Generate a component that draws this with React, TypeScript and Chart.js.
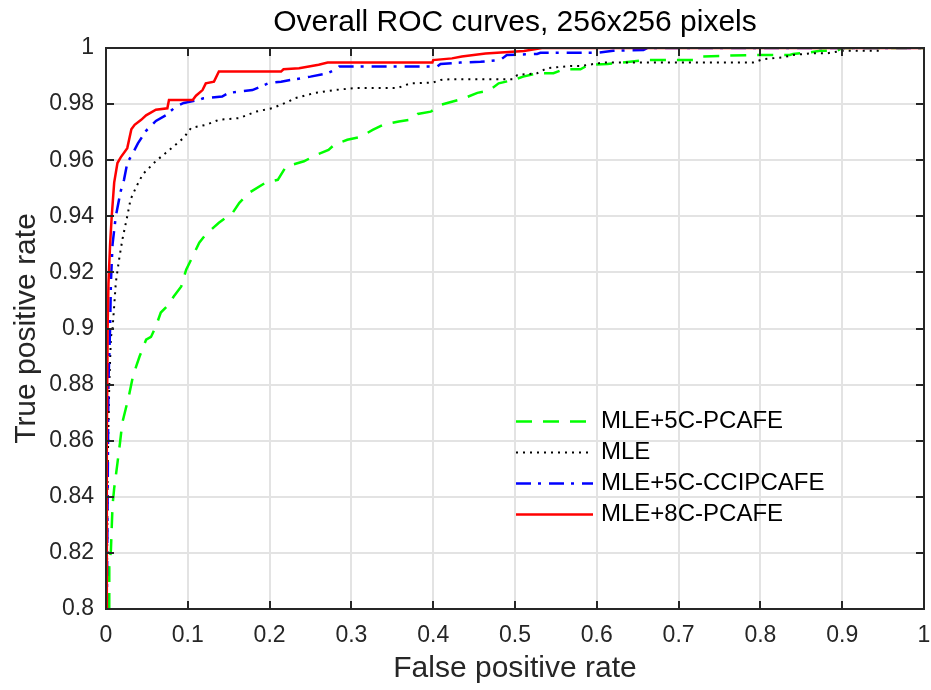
import React, { useEffect, useRef } from 'react';
import { Chart, registerables } from 'chart.js';

Chart.register(...registerables);

const chartTitle = 'Overall ROC curves, 256x256 pixels';
const xAxisTitle = 'False positive rate';
const yAxisTitle = 'True positive rate';
const seriesLabels = ['MLE+5C-PCAFE', 'MLE', 'MLE+5C-CCIPCAFE', 'MLE+8C-PCAFE'];

// [false positive rate, true positive rate]
const greenPoints: number[][] = [
  [0.004, 0.8], [0.004, 0.815], [0.006, 0.821], [0.008, 0.837], [0.01, 0.843], [0.014, 0.852],
  [0.017, 0.859], [0.02, 0.8665], [0.024, 0.8712], [0.028, 0.876], [0.033, 0.883], [0.037, 0.8866],
  [0.041, 0.89], [0.049, 0.896], [0.055, 0.897], [0.061, 0.9008], [0.067, 0.9057], [0.075, 0.908],
  [0.083, 0.9115], [0.092, 0.915], [0.098, 0.921], [0.106, 0.9257], [0.114, 0.9306], [0.122, 0.9335],
  [0.138, 0.9377], [0.155, 0.9413], [0.163, 0.9448], [0.175, 0.9484], [0.195, 0.952], [0.21, 0.953],
  [0.22, 0.9577], [0.228, 0.9584], [0.242, 0.9596], [0.258, 0.962], [0.272, 0.9637], [0.279, 0.9655],
  [0.295, 0.9673], [0.311, 0.9683], [0.326, 0.9708], [0.339, 0.9726], [0.358, 0.9738], [0.372, 0.9744],
  [0.381, 0.9765], [0.397, 0.9773], [0.409, 0.9797], [0.425, 0.981], [0.437, 0.982], [0.454, 0.984],
  [0.468, 0.9848], [0.48, 0.9874], [0.498, 0.9886], [0.51, 0.9898], [0.527, 0.991], [0.547, 0.991],
  [0.559, 0.9924], [0.58, 0.9924], [0.59, 0.994], [0.613, 0.9943], [0.661, 0.9957], [0.718, 0.9957],
  [0.73, 0.997], [0.788, 0.9975], [0.836, 0.9975], [0.84, 0.9979], [0.857, 0.9983], [0.873, 0.999],
  [0.894, 0.999], [0.9, 1], [1, 1],
];

const blackPoints: number[][] = [
  [0.001, 0.8], [0.002, 0.85], [0.004, 0.88], [0.006, 0.897], [0.008, 0.9], [0.01, 0.908],
  [0.012, 0.9164], [0.016, 0.9246], [0.02, 0.9317], [0.026, 0.94], [0.03, 0.946], [0.037, 0.9505],
  [0.045, 0.955], [0.061, 0.9597], [0.073, 0.9626], [0.085, 0.9655], [0.095, 0.968], [0.104, 0.9715],
  [0.122, 0.9726], [0.138, 0.9744], [0.163, 0.975], [0.183, 0.9773], [0.204, 0.9786], [0.224, 0.981],
  [0.23, 0.982], [0.254, 0.9839], [0.279, 0.985], [0.303, 0.9857], [0.356, 0.9857], [0.372, 0.9874],
  [0.4, 0.9877], [0.409, 0.9886], [0.421, 0.9889], [0.498, 0.9889], [0.503, 0.9904], [0.527, 0.991],
  [0.539, 0.9928], [0.568, 0.9936], [0.58, 0.9936], [0.608, 0.9948], [0.791, 0.9948], [0.803, 0.996],
  [0.828, 0.9967], [0.84, 0.9975], [0.861, 0.9981], [0.881, 0.9981], [0.901, 0.999], [0.946, 0.999],
  [0.95, 1], [1, 1],
];

const bluePoints: number[][] = [
  [0.001, 0.8], [0.002, 0.84], [0.003, 0.881], [0.005, 0.9], [0.006, 0.9164], [0.008, 0.93],
  [0.012, 0.94], [0.018, 0.949], [0.022, 0.953], [0.026, 0.959], [0.033, 0.9626], [0.039, 0.966],
  [0.049, 0.9705], [0.061, 0.974], [0.073, 0.976], [0.085, 0.979], [0.095, 0.9804], [0.114, 0.9815],
  [0.118, 0.982], [0.142, 0.9827], [0.15, 0.984], [0.179, 0.985], [0.199, 0.9875], [0.214, 0.988],
  [0.238, 0.9892], [0.25, 0.9898], [0.271, 0.991], [0.281, 0.9924], [0.285, 0.9934], [0.405, 0.9934],
  [0.409, 0.9943], [0.433, 0.9948], [0.458, 0.9951], [0.482, 0.9957], [0.49, 0.9975], [0.527, 0.9979],
  [0.531, 0.9983], [0.6, 0.9983], [0.62, 0.999], [0.657, 0.9993], [0.662, 1], [1, 1],
];

const redPoints: number[][] = [
  [0.001, 0.8], [0.001, 0.86], [0.002, 0.9], [0.003, 0.916], [0.005, 0.93], [0.007, 0.94],
  [0.01, 0.952], [0.014, 0.959], [0.018, 0.961], [0.026, 0.9643], [0.031, 0.971], [0.035, 0.9726],
  [0.043, 0.9744], [0.049, 0.976], [0.061, 0.978], [0.075, 0.9785], [0.077, 0.9815], [0.106, 0.9815],
  [0.11, 0.983], [0.118, 0.985], [0.122, 0.9874], [0.132, 0.988], [0.138, 0.9916], [0.214, 0.9916],
  [0.217, 0.9924], [0.236, 0.9928], [0.26, 0.994], [0.271, 0.9948], [0.399, 0.9948], [0.4, 0.9957],
  [0.423, 0.9963], [0.435, 0.997], [0.464, 0.998], [0.511, 0.9989], [0.533, 1], [1, 1],
];

const FONT = '"Liberation Sans", Arial, Helvetica, sans-serif';
const AXIS_COLOR = '#262626';

const fmt = (v: number) => String(Number(v.toFixed(2)));

const boxAndLegendPlugin = {
  id: 'boxAndLegend',
  afterDatasetsDraw(chart: any) {
    const { ctx, chartArea } = chart;
    const { left, right, top, bottom } = chartArea;
    const xs = chart.scales.x;
    const ys = chart.scales.y;
    ctx.save();
    // axes box
    ctx.strokeStyle = AXIS_COLOR;
    ctx.lineWidth = 2;
    ctx.setLineDash([]);
    ctx.strokeRect(left, top, right - left, bottom - top);
    // inward tick marks on all four sides
    const tl = 8;
    ctx.beginPath();
    xs.ticks.forEach((t: any) => {
      const px = Math.round(xs.getPixelForValue(t.value));
      ctx.moveTo(px, bottom);
      ctx.lineTo(px, bottom - tl);
      ctx.moveTo(px, top);
      ctx.lineTo(px, top + tl);
    });
    ys.ticks.forEach((t: any) => {
      const py = Math.round(ys.getPixelForValue(t.value));
      ctx.moveTo(left, py);
      ctx.lineTo(left + tl, py);
      ctx.moveTo(right, py);
      ctx.lineTo(right - tl, py);
    });
    ctx.stroke();

    // title, centred over the axes
    ctx.font = `30px ${FONT}`;
    ctx.fillStyle = '#000000';
    ctx.textAlign = 'center';
    ctx.textBaseline = 'middle';
    ctx.fillText(chartTitle, (left + right) / 2, top - 25);

    // legend (no frame), inside the axes
    const lx0 = left + 410;
    const lx1 = left + 487;
    const tx = left + 495;
    const y0 = top + 373.5;
    const dy = 31;
    ctx.font = `24px ${FONT}`;
    ctx.textBaseline = 'middle';
    ctx.textAlign = 'left';
    chart.data.datasets.forEach((ds: any, i: number) => {
      const yy = y0 + i * dy;
      ctx.beginPath();
      ctx.strokeStyle = ds.borderColor;
      ctx.lineWidth = ds.borderWidth;
      ctx.setLineDash(ds.borderDash || []);
      ctx.moveTo(lx0, yy);
      ctx.lineTo(lx1, yy);
      ctx.stroke();
      ctx.setLineDash([]);
      ctx.fillStyle = '#000000';
      ctx.fillText(ds.label, tx, yy);
    });
    ctx.restore();
  },
};

export default function App() {
  const canvasRef = useRef<HTMLCanvasElement | null>(null);

  useEffect(() => {
    if (!canvasRef.current) return;
    const toXY = (pts: number[][]) => pts.map(([x, y]) => ({ x, y }));
    const chart = new Chart(canvasRef.current, {
      type: 'line',
      data: {
        datasets: [
          {
            label: seriesLabels[0],
            data: toXY(greenPoints),
            borderColor: '#00ff00',
            borderWidth: 2.5,
            borderDash: [16, 11],
            order: 3,
          },
          {
            label: seriesLabels[1],
            data: toXY(blackPoints),
            borderColor: '#000000',
            borderWidth: 2,
            borderDash: [2, 5],
            order: 2,
          },
          {
            label: seriesLabels[2],
            data: toXY(bluePoints),
            borderColor: '#0000ff',
            borderWidth: 2.5,
            borderDash: [15, 7, 3, 8],
            order: 1,
          },
          {
            label: seriesLabels[3],
            data: toXY(redPoints),
            borderColor: '#ff0000',
            borderWidth: 2.5,
            order: 0,
          },
        ] as any,
      },
      options: {
        animation: false,
        responsive: false,
        maintainAspectRatio: false,
        devicePixelRatio: 1,
        layout: { padding: { left: 0, right: 7, top: 48, bottom: 0 } },
        elements: { point: { radius: 0 }, line: { tension: 0, fill: false } },
        plugins: {
          legend: { display: false },
          tooltip: { enabled: false },
          title: { display: false },
        },
        scales: {
          x: {
            type: 'linear',
            min: 0,
            max: 1,
            afterFit: (s: any) => {
              s.height = 81;
              s.paddingLeft = 0;
              s.paddingRight = 0;
            },
            ticks: {
              stepSize: 0.1,
              color: AXIS_COLOR,
              font: { family: FONT, size: 23 },
              padding: 12.5,
              maxRotation: 0,
              callback: (v: any) => fmt(Number(v)),
            },
            grid: { color: '#e3e3e3', lineWidth: 2, drawTicks: false },
            border: { display: false },
            title: {
              display: true,
              text: xAxisTitle,
              color: AXIS_COLOR,
              font: { family: FONT, size: 30 },
              padding: { top: 0, bottom: 3 },
            },
          },
          y: {
            type: 'linear',
            min: 0.8,
            max: 1,
            afterFit: (s: any) => {
              s.width = 106;
              s.paddingTop = 0;
              s.paddingBottom = 0;
            },
            ticks: {
              stepSize: 0.02,
              color: AXIS_COLOR,
              font: { family: FONT, size: 23 },
              padding: 12,
              callback: (v: any) => fmt(Number(v)),
            },
            grid: { color: '#e3e3e3', lineWidth: 2, drawTicks: false },
            border: { display: false },
            title: {
              display: true,
              text: yAxisTitle,
              color: AXIS_COLOR,
              font: { family: FONT, size: 30 },
              padding: { top: 9, bottom: 0 },
            },
          },
        },
      } as any,
      plugins: [boxAndLegendPlugin],
    });
    return () => chart.destroy();
  }, []);

  return (
    <div style={{ position: 'fixed', left: 0, top: 0, width: 931, height: 690, background: '#ffffff' }}>
      <canvas ref={canvasRef} width={931} height={690} style={{ display: 'block', width: 931, height: 690 }} />
    </div>
  );
}
